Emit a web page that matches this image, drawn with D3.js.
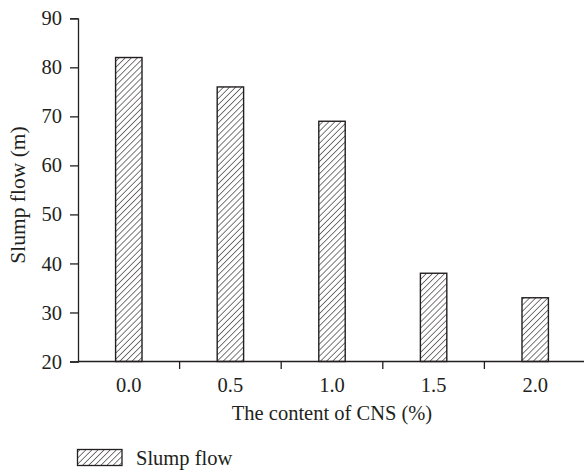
<!DOCTYPE html>
<html><head><meta charset="utf-8">
<script src="https://cdn.jsdelivr.net/npm/d3@7"></script>
<style>body{margin:0;background:#fff}svg{display:block}text{font-family:"Liberation Serif","Times New Roman",serif;fill:#231f20}</style>
</head><body>
<svg id="c" width="584" height="473"></svg>
<script>
const categories = ["0.0","0.5","1.0","1.5","2.0"];
const values = [82, 76, 69, 38, 33];
const yTicks = [20,30,40,50,60,70,80,90];
const seriesName = "Slump flow";
const xTitle = "The content of CNS (%)";
const yTitle = "Slump flow (m)";

const svg = d3.select("#c");
const ink = "#231f20";
const fs = 20.5;
const x = d3.scaleBand().domain(categories).range([78, 586]).paddingInner(0.74).paddingOuter(0.37);
const y = d3.scaleLinear().domain([20, 90]).range([361.5, 18.3]);

const defs = svg.append("defs");
const hs = 4.3;
const pat = defs.append("pattern").attr("id","hatch").attr("patternUnits","userSpaceOnUse")
  .attr("width",hs).attr("height",hs).attr("patternTransform","rotate(45)");
pat.append("rect").attr("width",hs).attr("height",hs).attr("fill","#fff");
pat.append("line").attr("x1",0).attr("y1",0).attr("x2",0).attr("y2",hs).attr("stroke",ink).attr("stroke-width",1.2);

// bars
svg.append("g").selectAll("rect").data(values).join("rect")
  .attr("x",(d,i)=>x(categories[i])).attr("width",x.bandwidth())
  .attr("y",d=>y(d)).attr("height",d=>y(20)-y(d))
  .attr("fill","url(#hatch)").attr("stroke",ink).attr("stroke-width",1.4);

// y axis
const ya = svg.append("g").attr("transform","translate(78,0)")
  .call(d3.axisLeft(y).tickValues(yTicks).tickSize(8).tickPadding(8).tickFormat(d3.format("d")));
ya.select(".domain").attr("stroke",ink).attr("stroke-width",1.3);
ya.selectAll(".tick line").attr("stroke",ink).attr("stroke-width",1.3);
ya.selectAll("text").attr("font-size",fs).attr("font-family",null).attr("fill",ink);

// x axis
const step = x.step();
const xa = svg.append("g").attr("transform","translate(0,361.5)")
  .call(d3.axisBottom(x).tickSize(0).tickPadding(16));
xa.select(".domain").attr("d","M78,0H584").attr("stroke",ink).attr("stroke-width",1.3);
xa.selectAll("text").attr("font-size",fs).attr("font-family",null).attr("fill",ink);
// separator ticks between categories
svg.append("g").selectAll("line").data(categories.slice(1)).join("line")
  .attr("x1",d=>x(d)+x.bandwidth()/2-step/2).attr("x2",d=>x(d)+x.bandwidth()/2-step/2)
  .attr("y1",361.5).attr("y2",369).attr("stroke",ink).attr("stroke-width",1.3);

// titles
svg.append("text").attr("x",332).attr("y",420).attr("text-anchor","middle").attr("font-size",fs).text(xTitle);
svg.append("text").attr("transform","translate(25,195) rotate(-90)").attr("text-anchor","middle").attr("font-size",21.5).text(yTitle);

// legend
svg.append("rect").attr("x",77.5).attr("y",449.5).attr("width",44.5).attr("height",16)
  .attr("fill","url(#hatch)").attr("stroke",ink).attr("stroke-width",1.3);
svg.append("text").attr("x",136).attr("y",465).attr("font-size",fs).text(seriesName);
</script>
</body></html>
